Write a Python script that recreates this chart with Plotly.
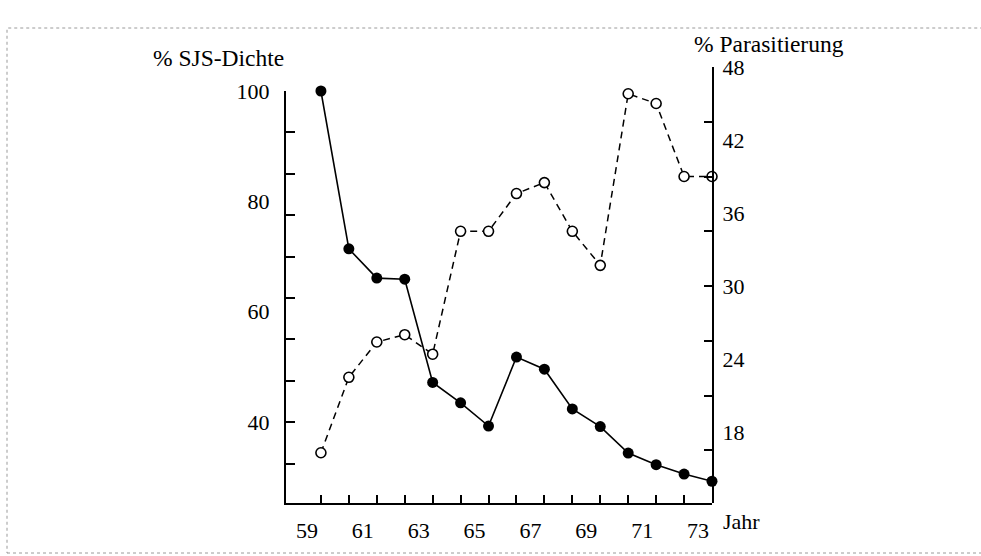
import plotly.graph_objects as go

# ---- data ----
years = [59, 60, 61, 62, 63, 64, 65, 66, 67, 68, 69, 70, 71, 72, 73]
sjs_dichte = [100, 71.4, 66.1, 65.9, 47.2, 43.5, 39.3, 51.8, 49.6, 42.4, 39.2, 34.4, 32.3, 30.6, 29.3]
parasitierung = [16.3, 22.5, 25.4, 26.0, 24.4, 34.5, 34.5, 37.6, 38.5, 34.5, 31.7, 45.8, 45.0, 39.0, 39.0]
x_labels = [59, 61, 63, 65, 67, 69, 71, 73]
left_labels = [40, 60, 80, 100]
right_labels = [18, 24, 30, 36, 42, 48]

W, H = 981, 556
FONT = "Liberation Serif"

# points plotted at mid-year
xpos = [y + 0.5 for y in years]
x_minor = [y + 0.5 for y in years[:-1]]
left_ticks = [100 - 7.5 * k for k in range(10)]
right_ticks = [48 - 4.5 * k for k in range(9)]


def py(p):
    return 1 - p / H


fig = go.Figure()

fig.add_trace(go.Scatter(
    x=xpos, y=parasitierung, yaxis="y2", mode="lines+markers",
    line=dict(color="black", width=1.5, dash="7px,5px"),
    marker=dict(symbol="circle", size=10, color="white",
                line=dict(color="black", width=1.6)),
    cliponaxis=False, showlegend=False))

fig.add_trace(go.Scatter(
    x=xpos, y=sjs_dichte, yaxis="y", mode="lines+markers",
    line=dict(color="black", width=1.6),
    marker=dict(symbol="circle", size=11, color="black"),
    cliponaxis=False, showlegend=False))

# invisible traces so the tick-only overlay axes are drawn
fig.add_trace(go.Scatter(x=[None], y=[None], yaxis="y3", showlegend=False, hoverinfo="skip"))
fig.add_trace(go.Scatter(x=[None], y=[None], yaxis="y4", showlegend=False, hoverinfo="skip"))

xdom = [286 / W, 712 / W]
ydom_left = [py(503), py(91)]
ydom_right = [py(503), py(67)]

fig.update_layout(
    template="none",
    width=W, height=H,
    margin=dict(l=0, r=0, t=0, b=0, pad=0, autoexpand=False),
    paper_bgcolor="white", plot_bgcolor="rgba(0,0,0,0)",
    font=dict(family=FONT, color="black", size=22),
    xaxis=dict(
        domain=xdom, range=[58.25, 73.5], anchor="y", automargin=False,
        tickmode="array", tickvals=x_labels, ticktext=[str(v) for v in x_labels],
        ticks="", showline=True, linewidth=2, linecolor="black",
        showgrid=False, zeroline=False, ticklabelstandoff=7,
        tickfont=dict(family=FONT, size=22, color="black"),
        minor=dict(tickmode="array", tickvals=x_minor, ticks="inside",
                   ticklen=8, tickwidth=1.5, tickcolor="black", showgrid=False),
    ),
    yaxis=dict(
        domain=ydom_left, range=[25.36, 100], anchor="x", side="left", automargin=False,
        tickmode="array", tickvals=left_labels, ticktext=[str(v) for v in left_labels],
        ticks="", showline=True, linewidth=2, linecolor="black",
        showgrid=False, zeroline=False, ticklabelstandoff=10,
        tickfont=dict(family=FONT, size=22, color="black"),
    ),
    yaxis3=dict(
        overlaying="y", range=[25.36, 100], anchor="x", side="left", automargin=False,
        tickmode="array", tickvals=left_ticks, showticklabels=False,
        ticks="inside", ticklen=9, tickwidth=1.8, tickcolor="black",
        showline=False, showgrid=False, zeroline=False,
    ),
    yaxis2=dict(
        domain=ydom_right, range=[12.17, 48], anchor="x", side="right", automargin=False,
        tickmode="array", tickvals=right_labels, ticktext=[str(v) for v in right_labels],
        ticks="", showline=True, linewidth=2, linecolor="black",
        showgrid=False, zeroline=False, ticklabelstandoff=4,
        tickfont=dict(family=FONT, size=22, color="black"),
    ),
    yaxis4=dict(
        overlaying="y2", range=[12.17, 48], anchor="x", side="right", automargin=False,
        tickmode="array", tickvals=right_ticks, showticklabels=False,
        ticks="inside", ticklen=8, tickwidth=1.8, tickcolor="black",
        showline=False, showgrid=False, zeroline=False,
    ),
    annotations=[
        dict(text="% SJS-Dichte", x=218 / W, y=py(58), xref="paper", yref="paper",
             xanchor="center", yanchor="middle", showarrow=False,
             font=dict(family=FONT, size=23.5, color="black")),
        dict(text="% Parasitierung", x=769 / W, y=py(44), xref="paper", yref="paper",
             xanchor="center", yanchor="middle", showarrow=False,
             font=dict(family=FONT, size=23.5, color="black")),
        dict(text="Jahr", x=721 / W, y=py(521), xref="paper", yref="paper",
             xanchor="left", yanchor="middle", showarrow=False,
             font=dict(family=FONT, size=22, color="black")),
    ],
    shapes=[
        dict(type="rect", xref="paper", yref="paper",
             x0=7 / W, x1=1.02, y0=py(553), y1=py(28),
             line=dict(color="#9a9a9a", width=1, dash="dot"), layer="below"),
    ],
)

fig.write_html("out.html")
